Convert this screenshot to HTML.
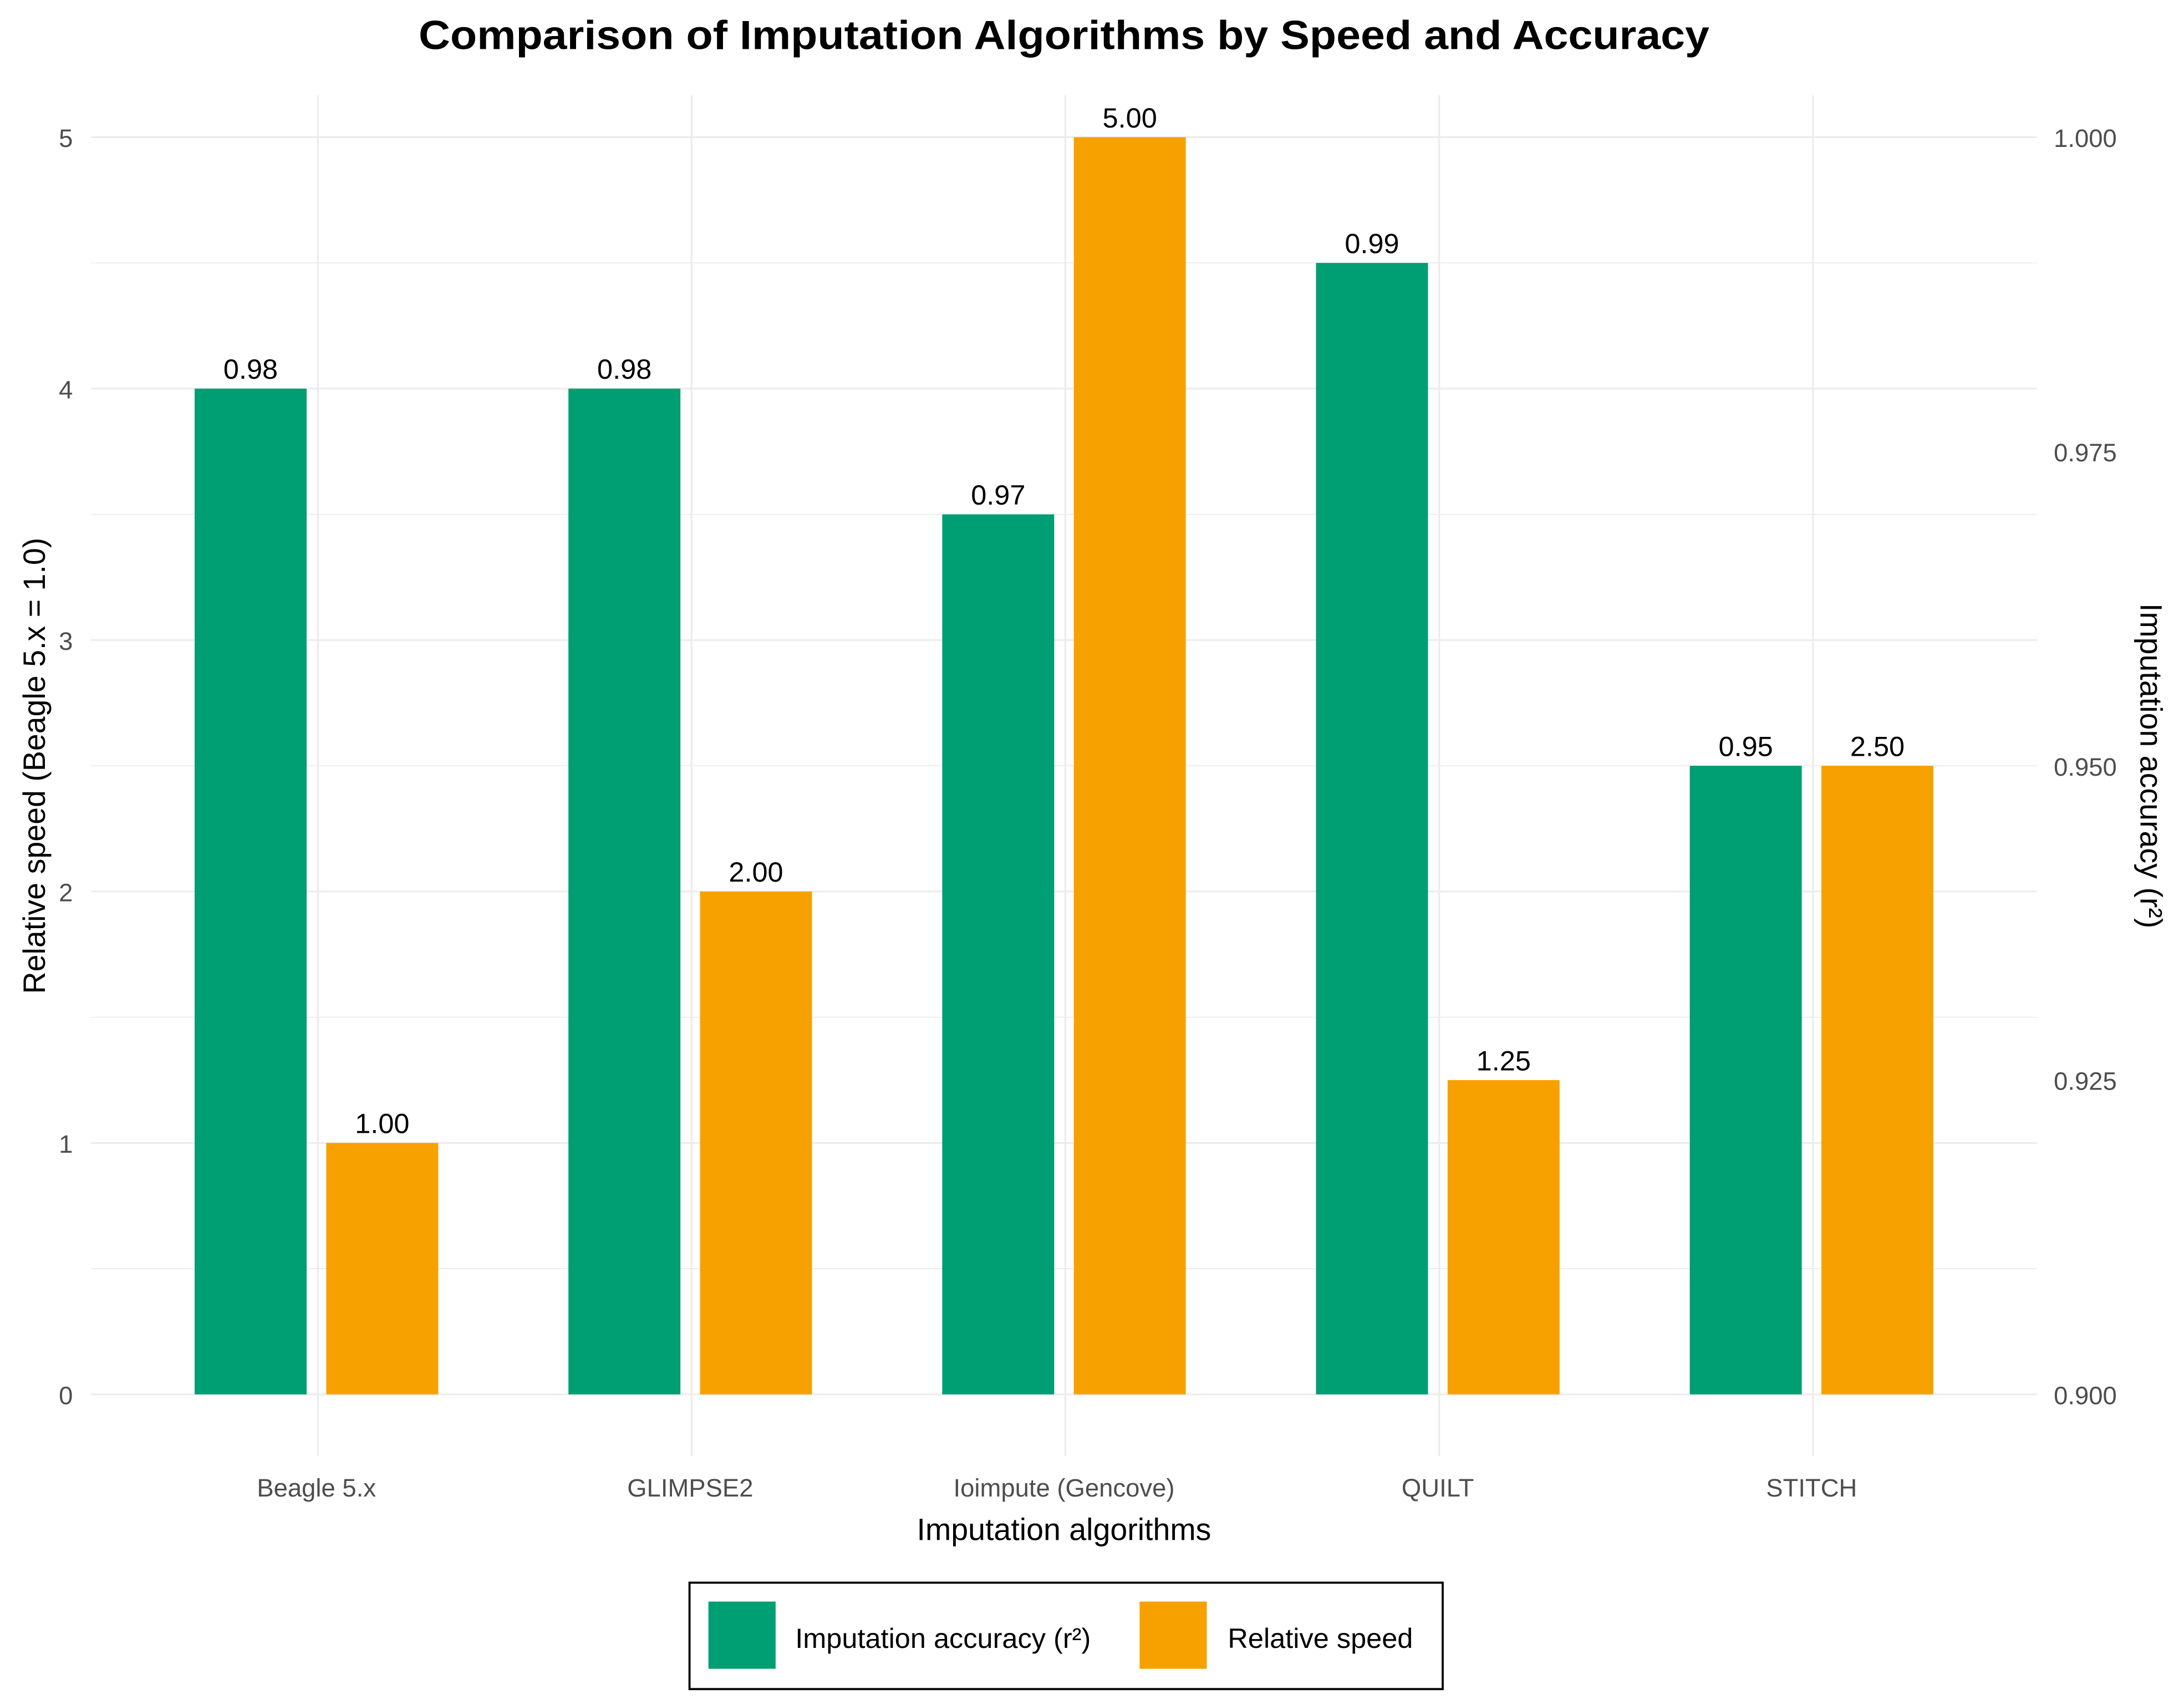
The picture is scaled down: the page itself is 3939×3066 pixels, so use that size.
<!DOCTYPE html>
<html><head><meta charset="utf-8"><style>
html,body{margin:0;padding:0;background:#fff;}
svg{display:block;font-family:"Liberation Sans",sans-serif;}
</style></head><body>
<svg id="chart" width="3939" height="3066" viewBox="0 0 1560 1214.3" xmlns="http://www.w3.org/2000/svg">
<rect width="1560" height="1214.3" fill="#fff"/>
<text x="760" y="35" text-anchor="middle" font-size="29" font-weight="bold" fill="#000" textLength="922" lengthAdjust="spacingAndGlyphs">Comparison of Imputation Algorithms by Speed and Accuracy</text>
<g id="grid"></g><g id="bars"></g><g id="labels"></g><g id="axes"></g>
<text x="760" y="1100" text-anchor="middle" font-size="22" fill="#000">Imputation algorithms</text>
<text transform="translate(32,547) rotate(-90)" text-anchor="middle" font-size="22" fill="#000">Relative speed (Beagle 5.x = 1.0)</text>
<text transform="translate(1529,547) rotate(90)" text-anchor="middle" font-size="22" fill="#000">Imputation accuracy (r²)</text>
<g>
<rect x="492.5" y="1130.5" width="538" height="76" fill="#fff" stroke="#000" stroke-width="1.5"/>
<rect x="506" y="1144" width="48" height="48" fill="#009E73"/>
<text x="568" y="1177" font-size="20" fill="#000">Imputation accuracy (r²)</text>
<rect x="814" y="1144" width="48" height="48" fill="#F7A100"/>
<text x="877" y="1177" font-size="20" fill="#000">Relative speed</text>
</g>
</svg>
<script>
const categories = ["Beagle 5.x","GLIMPSE2","Ioimpute (Gencove)","QUILT","STITCH"];
const accuracy = [0.98,0.98,0.97,0.99,0.95];
const speed = [1.00,2.00,5.00,1.25,2.50];
const leftTicks = [0,1,2,3,4,5];
const rightTicks = ["0.900","0.925","0.950","0.975","1.000"];

const NS="http://www.w3.org/2000/svg";
const plotL=65, plotR=1455, y0=996, y5=98;
const ys = v => y0 - (y0-y5)*v/5;
const accToSpeed = a => (a-0.9)*50;
const xc = i => 226 + i*267;
function mk(tag, attrs, parent, txt){const e=document.createElementNS(NS,tag);for(const k in attrs)e.setAttribute(k,attrs[k]);if(txt!==undefined)e.textContent=txt;document.getElementById(parent).appendChild(e);return e;}

// gridlines
for(let v=0; v<=5; v+=0.5){
  const g=mk('line',{x1:plotL,x2:plotR,y1:ys(v),y2:ys(v),stroke:'#EBEBEB','stroke-width':v%1===0?1.2:0.7},'grid');
  
  
}
categories.forEach((c,i)=>{
  const g=mk('line',{x1:xc(i)+1,x2:xc(i)+1,y1:68,y2:1040,stroke:'#EBEBEB','stroke-width':1.2},'grid');
  
  
});
// ticks
leftTicks.forEach(t=>{
  const e=mk('text',{x:47,y:ys(t)+7,'text-anchor':'middle','font-size':18,fill:'#4D4D4D'},'axes',String(t));
  
  
});
rightTicks.forEach(t=>{
  const e=mk('text',{x:1467,y:ys(accToSpeed(parseFloat(t)))+7,'font-size':18,fill:'#4D4D4D'},'axes',t);
  
  
});
categories.forEach((c,i)=>{
  const e=mk('text',{x:xc(i),y:1069,'text-anchor':'middle','font-size':18,fill:'#4D4D4D'},'axes',c);
  
  
});
// bars
const bw=80;
categories.forEach((c,i)=>{
  const ga=accToSpeed(accuracy[i]);
  const gx=xc(i)-87;
  const b1=mk('rect',{x:gx,y:ys(ga),width:bw,height:y0-ys(ga),fill:'#009E73'},'bars');
  
  
  const l1=mk('text',{x:gx+bw/2,y:ys(ga)-7,'text-anchor':'middle','font-size':20,fill:'#000'},'labels',accuracy[i].toFixed(2));
  
  
  const ox=xc(i)+7;
  const b2=mk('rect',{x:ox,y:ys(speed[i]),width:bw,height:y0-ys(speed[i]),fill:'#F7A100'},'bars');
  
  
  const l2=mk('text',{x:ox+bw/2,y:ys(speed[i])-7,'text-anchor':'middle','font-size':20,fill:'#000'},'labels',speed[i].toFixed(2));
  
  
});
</script>
</body></html>
